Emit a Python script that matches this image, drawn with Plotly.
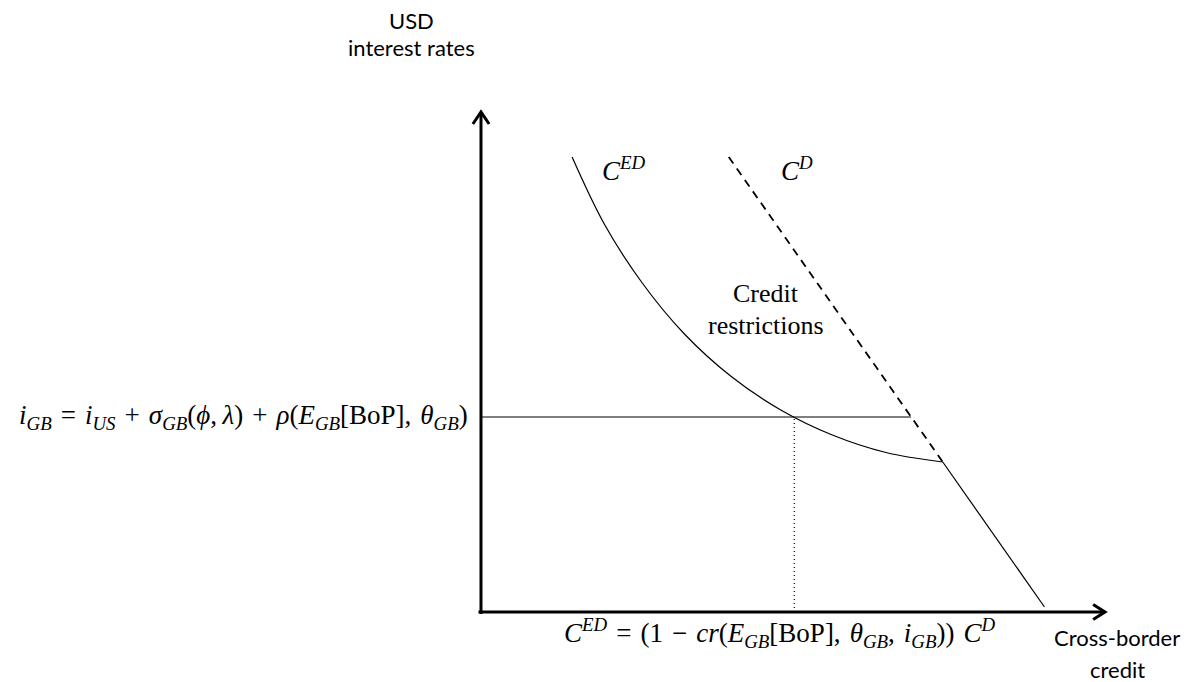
import plotly.graph_objects as go

# Curve of effective credit demand C^ED (convex, meets C^D at the kink)
ced_x = [1.46, 1.98, 2.59, 3.26, 4.0, 4.79, 5.63, 6.49, 7.4]
ced_y = [9.1, 7.75, 6.57, 5.56, 4.72, 4.05, 3.54, 3.19, 3.0]

# Credit demand C^D: dashed part above the kink, solid part below it
cd_dash_x = [3.97, 7.4]
cd_dash_y = [9.1, 3.0]
cd_solid_x = [7.4, 9.03]
cd_solid_y = [3.0, 0.1]

# Interest-rate level i_GB and the resulting credit quantity
rate_level = 3.9
rate_line_x = [0.0, 6.89]
credit_qty = 5.02

# Axis extents
x_axis_end = 10.0
y_axis_end = 10.0

BLACK = "#000000"
SERIF = "Liberation Serif"
SANS = "Lato"

fig = go.Figure()

fig.add_trace(go.Scatter(x=ced_x, y=ced_y, mode="lines",
                         line=dict(color=BLACK, width=1.2, shape="spline"),
                         hoverinfo="skip"))
fig.add_trace(go.Scatter(x=cd_dash_x, y=cd_dash_y, mode="lines",
                         line=dict(color=BLACK, width=1.8, dash="8px,6px"),
                         hoverinfo="skip"))
fig.add_trace(go.Scatter(x=cd_solid_x, y=cd_solid_y, mode="lines",
                         line=dict(color=BLACK, width=1.2),
                         hoverinfo="skip"))
fig.add_trace(go.Scatter(x=rate_line_x, y=[rate_level, rate_level], mode="lines",
                         line=dict(color=BLACK, width=1.2),
                         hoverinfo="skip"))
fig.add_trace(go.Scatter(x=[credit_qty, credit_qty], y=[0, rate_level], mode="lines",
                         line=dict(color=BLACK, width=1.2, dash="1px,3px"),
                         hoverinfo="skip"))

# Thick axes with open arrow heads
fig.add_trace(go.Scatter(x=[0, 0], y=[-0.04, y_axis_end], mode="lines",
                         line=dict(color=BLACK, width=3), hoverinfo="skip"))
fig.add_trace(go.Scatter(x=[-0.04, x_axis_end], y=[0, 0], mode="lines",
                         line=dict(color=BLACK, width=3), hoverinfo="skip"))
fig.add_trace(go.Scatter(x=[-0.13, 0, 0.13], y=[y_axis_end - 0.24, y_axis_end, y_axis_end - 0.24],
                         mode="lines", line=dict(color=BLACK, width=3), hoverinfo="skip"))
fig.add_trace(go.Scatter(x=[x_axis_end - 0.19, x_axis_end, x_axis_end - 0.19], y=[0.15, 0, -0.15],
                         mode="lines", line=dict(color=BLACK, width=3), hoverinfo="skip"))

ann = []


def label(x, y, text, font, size, xanchor="center", yanchor="middle"):
    ann.append(dict(x=x, y=y, xref="x", yref="y", text=text, showarrow=False,
                    xanchor=xanchor, yanchor=yanchor,
                    font=dict(family=font, size=size, color=BLACK)))


def it(s):
    return f"<i>{s}</i>"


def sub(s):
    return f"<sub>{it(s)}</sub>"


def sup(s):
    return f"<sup>{it(s)}</sup>"


SP = "\u2004"          # math space around binary operators
EQ = SP + "=" + SP
PLUS = SP + "+" + SP

left_formula = (it("i") + sub("GB") + EQ + it("i") + sub("US") + PLUS + it("σ") + sub("GB")
                + "(" + it("ϕ") + ",\u2009" + it("λ") + ")" + PLUS + it("ρ") + "(" + it("E") + sub("GB")
                + "[BoP],\u2004" + it("θ") + sub("GB") + ")")
bottom_formula = (it("C") + sup("ED") + EQ + "(1" + SP + "−" + SP + it("cr") + "(" + it("E") + sub("GB")
                  + "[BoP],\u2004" + it("θ") + sub("GB") + ",\u2004" + it("i") + sub("GB") + "))\u2004"
                  + it("C") + sup("D"))

label(-0.18, rate_level, left_formula, SERIF, 27, xanchor="right")
label(4.79, -0.42, bottom_formula, SERIF, 27)
label(2.29, 8.86, it("C") + sup("ED"), SERIF, 27)
label(5.06, 8.86, it("C") + sup("D"), SERIF, 27)
label(4.57, 6.38, "Credit", SERIF, 26)
label(4.57, 5.74, "restrictions", SERIF, 26)
label(-1.11, 11.84, "USD", SANS, 22)
label(-1.11, 11.3, "interest rates", SANS, 22)
label(10.2, -0.5, "Cross-border", SANS, 22)
label(10.2, -1.15, "credit", SANS, 22)

fig.update_layout(
    width=1192, height=682,
    margin=dict(l=0, r=0, t=0, b=0),
    paper_bgcolor="white", plot_bgcolor="white",
    showlegend=False,
    xaxis=dict(range=[-7.708, 11.394], visible=False, fixedrange=True),
    yaxis=dict(range=[-1.4, 12.24], visible=False, fixedrange=True),
    annotations=ann,
)

fig.write_html("out.html")
